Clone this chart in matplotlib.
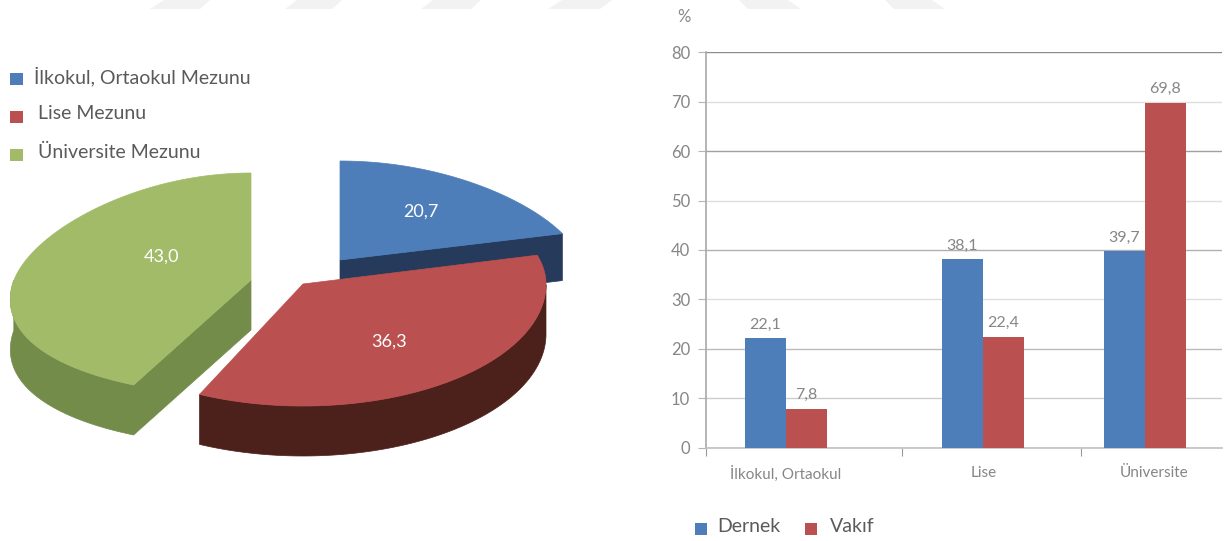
import numpy as np
import matplotlib
matplotlib.use("Agg")
import matplotlib.pyplot as plt
from matplotlib.patches import Polygon, Rectangle

plt.rcParams['font.family'] = ['Lato', 'DejaVu Sans']

# data
pie_labels = ['İlkokul, Ortaokul Mezunu', 'Lise Mezunu', 'Üniversite Mezunu']
pie_values = [20.7, 36.3, 43.0]

bar_categories = ['İlkokul, Ortaokul', 'Lise', 'Üniversite']
dernek = [22.1, 38.1, 39.7]
vakif = [7.8, 22.4, 69.8]
bar_series = ['Dernek', 'Vakıf']
y_ticks = [0, 10, 20, 30, 40, 50, 60, 70, 80]

# colours
BLUE = '#4d7eb9'
RED = '#bb5050'
GREEN = '#a2bb68'
TEXT = '#5a5a5a'
TICK = '#868686'

W, H = 1226, 541

# per slice geometry of the fake 3d pie, in pixels
pie_geom = [
    dict(cx=340, cy=260, rx=241, up=99, down=110, shear=0.16, depth=47, side='#263a5c', cut=-1, outer=False),
    dict(cx=303, cy=284, rx=243, up=108, down=122, shear=0.0, depth=50, side='#4d211b', cut=None, outer=True),
    dict(cx=251, cy=280, rx=237, up=107, down=116, shear=0.18, depth=50, side='#748c4a', cut=0, outer=True),
]
pie_text_pos = [(421, 212), (389, 342), (162, 257)]
slice_colors = [BLUE, RED, GREEN]


def rim(g, t):
    s, c = np.sin(t), np.cos(t)
    x = g['cx'] + g['rx'] * c * (1 - g['shear'] * s)
    y = g['cy'] - np.where(s > 0, g['up'], g['down']) * s
    return x, y


fig = plt.figure(figsize=(W / 100, H / 100), dpi=100)
bg = fig.add_axes([0, 0, 1, 1])
bg.set_xlim(0, W)
bg.set_ylim(H, 0)
bg.axis('off')

# faded watermark strip on top
for top_l, top_r, bot_l, bot_r in [(164, 210, 150, 200), (297, 342, 285, 332), (433, 481, 421, 471),
                                   (562, 612, 548, 600), (739, 788, 748, 801), (885, 932, 894, 945)]:
    bg.add_patch(Polygon([(top_l, 0), (top_r, 0), (bot_r, 9), (bot_l, 9)], fc='#f2f2f2', ec='none'))

# pie, angles come from the values, clockwise from 12 o'clock
total = float(sum(pie_values))
start = np.pi / 2
for i in [0, 2, 1]:
    before = sum(pie_values[:i]) / total
    t0 = start - 2 * np.pi * before
    t1 = t0 - 2 * np.pi * pie_values[i] / total
    g = pie_geom[i]
    t = np.linspace(t0, t1, 200)
    x, y = rim(g, t)
    if g['outer']:
        # outer wall, only the front half shows
        vis = np.sin(t) <= 0
        xs, ys = x[vis], y[vis]
        bg.add_patch(Polygon(np.r_[np.c_[xs, ys], np.c_[xs, ys + g['depth']][::-1]], fc=g['side'], ec=g['side'], lw=0.5, zorder=2 + i))
    if g['cut'] is not None:
        # cut wall from apex to the rim end that faces us
        j = g['cut']
        pts = [(g['cx'], g['cy']), (x[j], y[j]), (x[j], y[j] + g['depth']), (g['cx'], g['cy'] + g['depth'])]
        bg.add_patch(Polygon(pts, fc=g['side'], ec=g['side'], lw=0.5, zorder=2 + i))
    bg.add_patch(Polygon(np.r_[[(g['cx'], g['cy'])], np.c_[x, y]], fc=slice_colors[i], ec=slice_colors[i], lw=0.5, zorder=2 + i))
    bg.text(pie_text_pos[i][0], pie_text_pos[i][1], ('%.1f' % pie_values[i]).replace('.', ','), color='white',
            fontsize=13, ha='center', va='center', zorder=10)

# pie legend
for lab, col, ly, lx in zip(pie_labels, slice_colors, [79, 116.5, 155], [33.5, 37.5, 37.5]):
    bg.add_patch(Rectangle((10, ly - 6), 12.5, 12, fc=col, ec='none'))
    bg.text(lx, ly - 3, lab, color=TEXT, fontsize=14, ha='left', va='center')

# bar chart, x axis is in pixels as the groups are not evenly spaced
left, right, bottom, top = 705.5, 1222, 447.7, 52.3
ax = fig.add_axes([left / W, 1 - bottom / H, (right - left) / W, (bottom - top) / H])
ax.patch.set_alpha(0)
group_x = np.array([785.5, 983, 1144.5])
bar_w = 41
ax.set_xlim(left, right)
ax.set_ylim(0, 80)

b1 = ax.bar(group_x - bar_w / 2, dernek, bar_w, color=BLUE, zorder=3)
b2 = ax.bar(group_x + bar_w / 2, vakif, bar_w, color=RED, zorder=3)
for b, vals in [(b1, dernek), (b2, vakif)]:
    ax.bar_label(b, [('%.1f' % v).replace('.', ',') for v in vals], padding=5, color=TICK, fontsize=11.5)

ax.set_yticks(y_ticks)
ax.tick_params(axis='y', length=6, color='#b5b5b5', labelcolor=TICK, labelsize=12, pad=5)
ax.yaxis.grid(True, zorder=0)
grid_colors = ['#c0c0c0', '#cccccc', '#bbbbbb', '#dedede', '#b0b0b0', '#dedede', '#a0a0a0', '#dedede', '#8c8c8c']
for line, col in zip(ax.get_ygridlines(), grid_colors):
    line.set_color(col)
    line.set_linewidth(1.0)

ax.set_xticks([left, 902, 1080.7], ['', '', ''])
ax.set_xticks([786, 983.4, 1154], bar_categories, minor=True)
ax.tick_params(axis='x', which='major', length=6, color='#999999')
ax.tick_params(axis='x', which='minor', length=0, labelcolor=TICK, labelsize=11, pad=13)

for s in ['top', 'right']:
    ax.spines[s].set_visible(False)
ax.spines['left'].set_color('#a8a8a8')
ax.spines['left'].set_linewidth(1.2)
ax.spines['bottom'].set_color('#c0c0c0')
ax.spines['bottom'].set_linewidth(1.2)

bg.text(684, 17, '%', color=TICK, fontsize=12, ha='center', va='center')

# bar legend
for lab, col, sx, tx in zip(bar_series, [BLUE, RED], [695, 804.5], [717.5, 830]):
    bg.add_patch(Rectangle((sx, 523), 12, 12, fc=col, ec='none'))
    bg.text(tx, 526, lab, color=TEXT, fontsize=14, ha='left', va='center')

plt.savefig('out.png', dpi=100)
plt.close()
